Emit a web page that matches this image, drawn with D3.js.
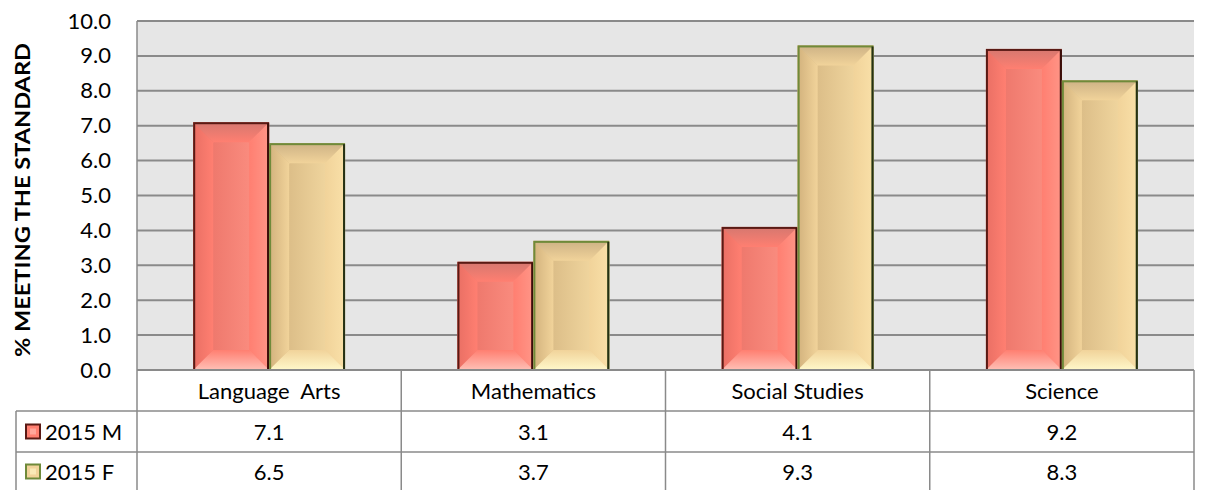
<!DOCTYPE html>
<html><head><meta charset="utf-8">
<script src="https://cdn.jsdelivr.net/npm/d3@7"></script>
<style>body{margin:0;background:#fff}svg{display:block}text{font-family:Lato,"Open Sans",sans-serif}</style>
</head><body>
<script>
const categories = ["Language  Arts","Mathematics","Social Studies","Science"];
const seriesNames = ["2015 M","2015 F"];
const valuesM = [7.1,3.1,4.1,9.2];
const valuesF = [6.5,3.7,9.3,8.3];
const yTicks = [0,1,2,3,4,5,6,7,8,9,10];
const yLabel = "% MEETING THE STANDARD";

const W=1208,H=490;
const svg=d3.select("body").append("svg").attr("width",W).attr("height",H);
const defs=svg.append("defs");
const pl=137, pr=1194, pt=21, pb=370;
const x=d3.scaleBand().domain(categories).range([pl,pr]).paddingInner(0).paddingOuter(0);
const xs=d3.scaleBand().domain(seriesNames).range([0,x.bandwidth()]).paddingOuter(0.74).paddingInner(0);
const y=d3.scaleLinear().domain([0,10]).range([pb,pt]);

const styles={
 "2015 M":{id:"m",base:"#FF7F71",left:"#E96F64",right:"#FF9587",top:"#D5776F",bot:"#FFC0B6",border:"#5A1A14",border2:"#3A0E0A"},
 "2015 F":{id:"f",base:"#F1D39A",left:"#D2B27D",right:"#F9E0A8",top:"#CDB285",bot:"#FFF8CA",border:"#6F8A3A",border2:"#263014"}
};
Object.values(styles).forEach(st=>{
 const mk=(name,x1,y1,x2,y2,c1,c2)=>{
  const g=defs.append("linearGradient").attr("id",st.id+name).attr("x1",x1).attr("y1",y1).attr("x2",x2).attr("y2",y2);
  g.append("stop").attr("offset","0%").attr("stop-color",c1);
  g.append("stop").attr("offset","100%").attr("stop-color",c2);
 };
 mk("T",0,0,0,1,st.top,st.base);
 mk("B",0,1,0,0,st.bot,st.base);
 mk("L",0,0,1,0,st.left,st.base);
 mk("R",1,0,0,0,st.right,st.base);
 mk("H",0,0,1,0,st.left,st.right);
});

// plot bg
svg.append("rect").attr("x",pl).attr("y",pt).attr("width",pr-pl).attr("height",pb-pt).attr("fill","#E6E6E6");
// gridlines
svg.append("g").selectAll("line").data(yTicks).join("line")
 .attr("x1",pl).attr("x2",pr).attr("y1",d=>y(d)).attr("y2",d=>y(d))
 .attr("stroke","#8A8A8A").attr("stroke-width",2);
svg.append("line").attr("x1",pl).attr("x2",pl).attr("y1",pt).attr("y2",pb).attr("stroke","#8A8A8A").attr("stroke-width",1.5);

// y axis
const ya=svg.append("g").attr("transform",`translate(${pl},0)`)
 .call(d3.axisLeft(y).tickValues(yTicks).tickFormat(d3.format(".1f")).tickSize(0).tickPadding(26));
ya.select(".domain").remove();
ya.selectAll("text").attr("font-size",22).attr("fill","#000").style("font-family","Lato");

svg.append("text").attr("transform",`translate(30,200) rotate(-90)`)
 .attr("text-anchor","middle").attr("font-size",20).attr("font-weight","bold")
 .attr("textLength",314).attr("lengthAdjust","spacingAndGlyphs").text(yLabel);

function drawBar(g,x0,w,v,st){
 const y0=y(v),y1=y(0),h=y1-y0,b=Math.min(20,h/2,w/2);
 const x1=x0+w;
 g.append("rect").attr("x",x0).attr("y",y0).attr("width",w).attr("height",h).attr("fill",`url(#${st.id}H)`);
 const poly=(pts,fill)=>g.append("polygon").attr("points",pts.map(p=>p.join(",")).join(" ")).attr("fill",fill);
 poly([[x0,y0],[x0+b,y0+b],[x0+b,y1-b],[x0,y1]],`url(#${st.id}L)`);
 poly([[x1,y0],[x1-b,y0+b],[x1-b,y1-b],[x1,y1]],`url(#${st.id}R)`);
 poly([[x0,y0],[x1,y0],[x1-b,y0+b],[x0+b,y0+b]],`url(#${st.id}T)`);
 poly([[x0,y1],[x1,y1],[x1-b,y1-b],[x0+b,y1-b]],`url(#${st.id}B)`);
 g.append("rect").attr("x",x0+1).attr("y",y0+1).attr("width",w-2).attr("height",h-1)
  .attr("fill","none").attr("stroke",st.border).attr("stroke-width",2);
 g.append("line").attr("x1",x1-1).attr("x2",x1-1).attr("y1",y0+1).attr("y2",y1).attr("stroke",st.border2).attr("stroke-width",2);
}
const bars=svg.append("g");
categories.forEach((c,i)=>{
 drawBar(bars,x(c)+xs("2015 M"),xs.bandwidth(),valuesM[i],styles["2015 M"]);
 drawBar(bars,x(c)+xs("2015 F"),xs.bandwidth(),valuesF[i],styles["2015 F"]);
});

// data table
const tl=16, r1=411, r2=452, r3=493;
const gl=svg.append("g").attr("stroke","#8A8A8A").attr("stroke-width",1.5);
gl.append("line").attr("x1",pl).attr("x2",pr).attr("y1",pb).attr("y2",pb).attr("stroke-width",2);
[r1,r2].forEach(yy=>gl.append("line").attr("x1",tl).attr("x2",pr).attr("y1",yy).attr("y2",yy));
gl.append("line").attr("x1",tl).attr("x2",tl).attr("y1",r1).attr("y2",H);
categories.forEach((c,i)=>{
 gl.append("line").attr("x1",x(c)).attr("x2",x(c)).attr("y1",pb).attr("y2",H);
});
gl.append("line").attr("x1",pr).attr("x2",pr).attr("y1",pb).attr("y2",H);

svg.append("g").selectAll("text").data(categories).join("text")
 .attr("x",d=>x(d)+x.bandwidth()/2).attr("y",(pb+r1)/2+8).attr("text-anchor","middle")
 .attr("font-size",22).style("white-space","pre").text(d=>d);
const rows=[{name:"2015 M",vals:valuesM,yy:(r1+r2)/2},{name:"2015 F",vals:valuesF,yy:(r2+r3)/2-1}];
rows.forEach(r=>{
 svg.append("g").selectAll("text").data(r.vals).join("text")
  .attr("x",(d,i)=>x(categories[i])+x.bandwidth()/2).attr("y",r.yy+8).attr("text-anchor","middle")
  .attr("font-size",22).text(d=>d3.format(".1f")(d));
 const lg=svg.append("g");
 const st=styles[r.name];
 lg.append("rect").attr("x",26).attr("y",r.yy-7).attr("width",14).attr("height",14).attr("fill",st.base).attr("stroke",st.border).attr("stroke-width",2);
 lg.append("rect").attr("x",30).attr("y",r.yy-3).attr("width",6).attr("height",6).attr("fill",st.bot).attr("opacity",0.6);
 svg.append("text").attr("x",45).attr("y",r.yy+8).attr("font-size",22).text(r.name);
});
</script>
</body></html>
